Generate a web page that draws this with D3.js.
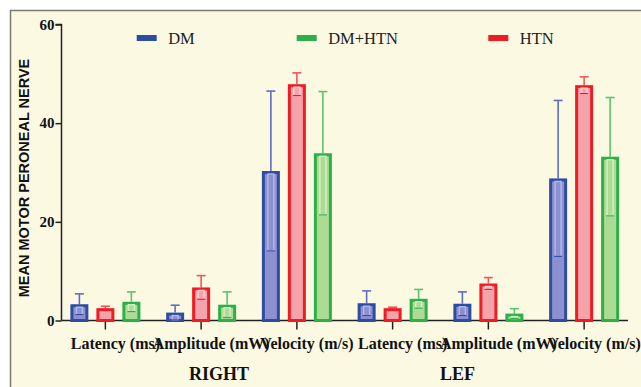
<!DOCTYPE html>
<html>
<head>
<meta charset="utf-8">
<script src="https://cdn.jsdelivr.net/npm/d3@7/dist/d3.min.js"></script>
<style>
  html, body { margin: 0; padding: 0; background: #ffffff; }
  svg { display: block; }
</style>
</head>
<body>
<svg id="chart" width="641" height="387"></svg>
<script>
// Nerve conduction measures, grouped by side
const categories = ["Latency (ms)", "Amplitude (mW)", "Velocity (m/s)", "Latency (ms)", "Amplitude (mW)", "Velocity (m/s)"];
const sides = ["RIGHT", "LEF"];
const seriesNames = ["DM", "HTN", "DM+HTN"];
const legendOrder = ["DM", "DM+HTN", "HTN"];
const yTicks = [0, 20, 40, 60];

// Means and standard deviations per group
const dmMean    = [3.3, 1.6, 30.3, 3.5, 3.4, 28.8];
const dmSD      = [2.1, 1.5, 16.2, 2.5, 2.4, 15.8];
const htnMean   = [2.5, 6.7, 47.9, 2.5, 7.5, 47.7];
const htnSD     = [0.4, 2.4, 2.3, 0.2, 1.2, 1.7];
const dmhtnMean = [3.8, 3.2, 33.9, 4.4, 1.4, 33.2];
const dmhtnSD   = [2.0, 2.6, 12.5, 1.9, 1.0, 12.0];

const colors = {
  "DM":     { edge: "#2f4da0", fill: "#8c8fd0", strip: "#b6b8e8", whisk: "#5f6cc0" },
  "HTN":    { edge: "#ee1d24", fill: "#f4a3aa", strip: "#fcd3d6", whisk: "#f0585c" },
  "DM+HTN": { edge: "#2cb04a", fill: "#aedb94", strip: "#d6eec4", whisk: "#5dc46b" }
};

const means = { "DM": dmMean, "HTN": htnMean, "DM+HTN": dmhtnMean };
const sds   = { "DM": dmSD,   "HTN": htnSD,   "DM+HTN": dmhtnSD };

const svg = d3.select("#chart");

// panel background and frame
svg.append("rect").attr("x", 10.5).attr("y", 10.5).attr("width", 640).attr("height", 380)
  .attr("fill", "#fcf9e3").attr("stroke", "#7a7a72").attr("stroke-width", 1.5);

const y = d3.scaleLinear().domain([0, 60]).range([320.5, 24.5]);
const x = d3.scaleBand().domain(d3.range(categories.length)).range([57.5, 632]).padding(0);
const sub = d3.scalePoint().domain(seriesNames).range([-26, 26]);
const barW = 15;

const serif = "'Liberation Serif', 'Times New Roman', serif";
const sans = "'Liberation Sans', Arial, sans-serif";

// y axis
const yAxis = svg.append("g").attr("transform", "translate(61.5,0)")
  .call(d3.axisLeft(y).tickValues(yTicks).tickSize(6).tickPadding(1));
yAxis.attr("font-family", serif);
yAxis.select(".domain").attr("stroke", "#222").attr("stroke-width", 1.5)
  .attr("d", `M-6,${y(60)}H0V${y(0)}`);
yAxis.selectAll(".tick line").attr("stroke", "#222").attr("stroke-width", 1.5);
yAxis.selectAll(".tick text").attr("font-family", serif).attr("font-weight", "bold")
  .attr("font-size", 15).attr("fill", "#111");

// x axis
const xAxis = svg.append("g").attr("transform", `translate(0,${y(0)})`)
  .call(d3.axisBottom(x).tickSize(9).tickPadding(8).tickFormat(i => categories[i]));
xAxis.attr("font-family", serif);
xAxis.select(".domain").attr("stroke", "#222").attr("stroke-width", 1.5)
  .attr("d", "M61.5,0H628");
xAxis.selectAll(".tick line").attr("stroke", "#222").attr("stroke-width", 1.5);
xAxis.selectAll(".tick text").attr("font-family", serif).attr("font-weight", "bold")
  .attr("font-size", 16).attr("fill", "#111").attr("dx", 10);

// side labels under the category groups
const sideX = [219, 457.5];
svg.selectAll("text.side").data(sides).enter().append("text")
  .attr("class", "side")
  .attr("x", (d, i) => sideX[i]).attr("y", 380)
  .attr("text-anchor", "middle")
  .attr("font-family", serif).attr("font-weight", "bold").attr("font-size", 18)
  .attr("fill", "#111").text(d => d);

// y title
svg.append("text")
  .attr("transform", "translate(29,178) rotate(-90)")
  .attr("text-anchor", "middle")
  .attr("font-family", sans).attr("font-weight", "bold").attr("font-size", 14.5)
  .attr("fill", "#111").text("MEAN MOTOR PERONEAL NERVE");

// bars
const barData = [];
seriesNames.forEach(s => {
  categories.forEach((c, i) => {
    barData.push({ s, i, mean: means[s][i], sd: sds[s][i] });
  });
});
const cx = d => x(d.i) + x.bandwidth() / 2 + sub(d.s);

const bars = svg.append("g").selectAll("g").data(barData).enter().append("g");

// upper whisker
bars.append("line")
  .attr("x1", cx).attr("x2", cx)
  .attr("y1", d => y(d.mean)).attr("y2", d => y(d.mean + d.sd))
  .attr("stroke", d => colors[d.s].whisk).attr("stroke-width", 1.6);
bars.append("line")
  .attr("x1", d => cx(d) - 4.5).attr("x2", d => cx(d) + 4.5)
  .attr("y1", d => y(d.mean + d.sd)).attr("y2", d => y(d.mean + d.sd))
  .attr("stroke", d => colors[d.s].whisk).attr("stroke-width", 1.6);

// bar body
bars.append("rect")
  .attr("x", d => cx(d) - barW / 2).attr("width", barW)
  .attr("y", d => y(d.mean) + 1.5)
  .attr("height", d => Math.max(0, y(0) - y(d.mean) - 1.5))
  .attr("fill", d => colors[d.s].fill)
  .attr("stroke", d => colors[d.s].edge).attr("stroke-width", 3);

// lower whisker drawn inside the bar
bars.append("rect")
  .attr("x", d => cx(d) - 3).attr("width", 6)
  .attr("y", d => y(d.mean) + 3)
  .attr("height", d => Math.max(0, y(Math.max(0, d.mean - d.sd)) - y(d.mean) - 3))
  .attr("fill", "none")
  .attr("stroke", d => colors[d.s].strip).attr("stroke-width", 1.4);
bars.append("line")
  .attr("x1", d => cx(d) - 4).attr("x2", d => cx(d) + 4)
  .attr("y1", d => y(Math.max(0, d.mean - d.sd))).attr("y2", d => y(Math.max(0, d.mean - d.sd)))
  .attr("stroke", d => colors[d.s].edge).attr("stroke-width", 1.2);

// legend
const legendX = [136.7, 296.7, 488.3];
const legend = svg.append("g").selectAll("g").data(legendOrder).enter().append("g")
  .attr("transform", (d, i) => `translate(${legendX[i]},0)`);
legend.append("rect").attr("x", 0).attr("y", 35).attr("width", 20).attr("height", 6)
  .attr("fill", d => colors[d].edge);
legend.append("text").attr("x", 31.5).attr("y", 44)
  .attr("font-family", serif).attr("font-size", 16.5).attr("fill", "#222")
  .text(d => d);
</script>
</body>
</html>
